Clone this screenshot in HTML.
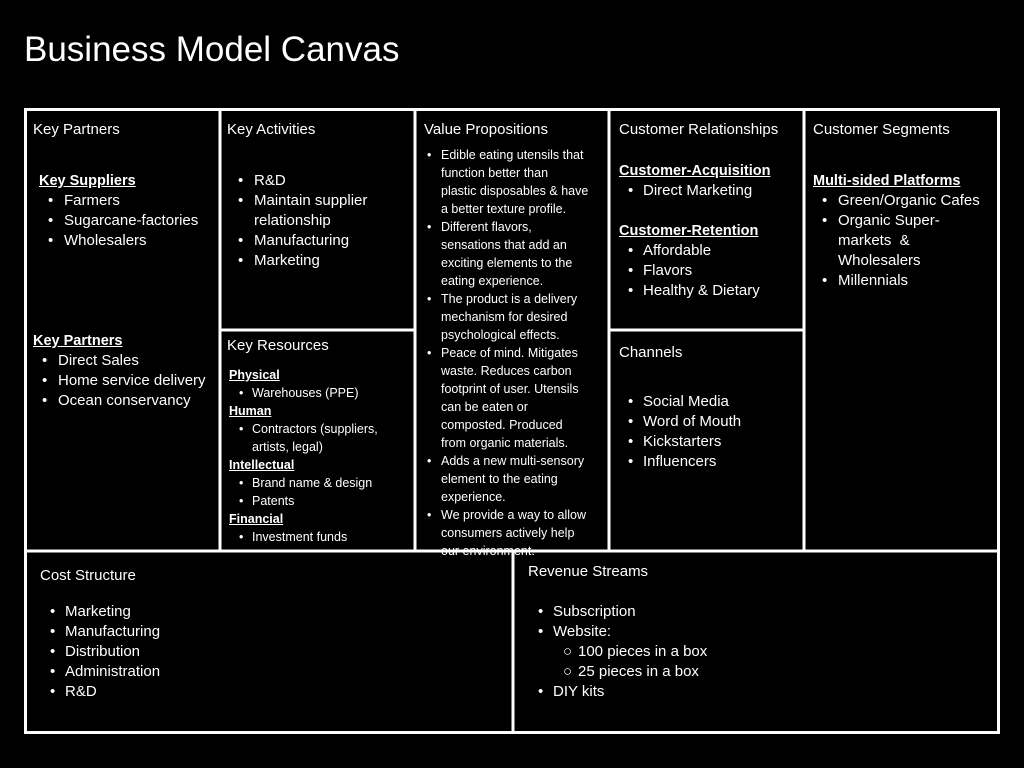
<!DOCTYPE html>
<html><head><meta charset="utf-8"><style>
body{margin:0;width:1024px;height:768px;background:#000;overflow:hidden;position:relative;font-family:"Liberation Sans",sans-serif;color:#fff}
.t{position:absolute;white-space:nowrap;font-size:15px;line-height:20px}
.s{position:absolute;white-space:nowrap;font-size:12.5px;line-height:18px}
.b{font-weight:bold;text-decoration:underline;font-size:14.5px}
.s.b{font-size:12.5px}
svg{position:absolute;left:0;top:0}
</style></head><body>
<svg width="1024" height="768"><g stroke="#fff" stroke-width="3" fill="none">
<rect x="25.5" y="109.5" width="973" height="623"/>
<line x1="220" y1="109" x2="220" y2="551"/>
<line x1="415" y1="109" x2="415" y2="551"/>
<line x1="609" y1="109" x2="609" y2="551"/>
<line x1="804" y1="109" x2="804" y2="551"/>
<line x1="220" y1="330" x2="415" y2="330"/>
<line x1="609" y1="330" x2="804" y2="330"/>
<line x1="25" y1="551" x2="999" y2="551"/>
<line x1="513" y1="551" x2="513" y2="733"/>
</g></svg>
<div style="position:absolute;left:24px;top:29px;font-size:35px;line-height:42px;white-space:nowrap">Business Model Canvas</div>
<div id="c"></div>
<script>
var h='';
function T(x,y,s,cls){h+='<div class="t '+(cls||'')+'" style="left:'+x+'px;top:'+(y-10)+'px">'+s+'</div>';}
function S(x,y,s,cls){h+='<div class="s '+(cls||'')+'" style="left:'+x+'px;top:'+(y-9)+'px">'+s+'</div>';}
function B(d,x,y,s){T(d,y,'•');T(x,y,s);}
function BS(d,x,y,s){if(s[0]!='~')S(d,y,'•');else s=s.slice(1);S(x,y,s);}
T(33,130,'Key Partners');T(227,130,'Key Activities');T(424,130,'Value Propositions');T(619,130,'Customer Relationships');T(813,130,'Customer Segments');
T(39,181,'Key Suppliers','b');B(48,64,201,'Farmers');B(48,64,221,'Sugarcane-factories');B(48,64,241,'Wholesalers');
T(33,341,'Key Partners','b');B(42,58,361,'Direct Sales');B(42,58,381,'Home service delivery');B(42,58,401,'Ocean conservancy');
B(238,254,181,'R&amp;D');B(238,254,201,'Maintain supplier');T(254,221,'relationship');B(238,254,241,'Manufacturing');B(238,254,261,'Marketing');
T(227,346,'Key Resources');
S(229,375,'Physical','b');BS(239,252,393,'Warehouses (PPE)');S(229,411,'Human','b');BS(239,252,429,'Contractors (suppliers,');BS(239,252,447,'~artists, legal)');
S(229,465,'Intellectual','b');BS(239,252,483,'Brand name &amp; design');BS(239,252,501,'Patents');S(229,519,'Financial','b');BS(239,252,537,'Investment funds');
var vp=[[155,'Edible eating utensils that'],[173,'~function better than'],[191,'~plastic disposables &amp; have'],[209,'~a better texture profile.'],
[227,'Different flavors,'],[245,'~sensations that add an'],[263,'~exciting elements to the'],[281,'~eating experience.'],
[299,'The product is a delivery'],[317,'~mechanism for desired'],[335,'~psychological effects.'],
[353,'Peace of mind. Mitigates'],[371,'~waste. Reduces carbon'],[389,'~footprint of user. Utensils'],[407,'~can be eaten or'],[425,'~composted. Produced'],[443,'~from organic materials.'],
[461,'Adds a new multi-sensory'],[479,'~element to the eating'],[497,'~experience.'],[515,'We provide a way to allow'],[533,'~consumers actively help'],[551,'~our environment.']];
vp.forEach(function(a){BS(427,441,a[0],a[1]);});
T(619,171,'Customer-Acquisition','b');B(628,643,191,'Direct Marketing');T(619,231,'Customer-Retention','b');B(628,643,251,'Affordable');B(628,643,271,'Flavors');B(628,643,291,'Healthy &amp; Dietary');
T(619,353,'Channels');B(628,643,402,'Social Media');B(628,643,422,'Word of Mouth');B(628,643,442,'Kickstarters');B(628,643,462,'Influencers');
T(813,181,'Multi-sided Platforms','b');B(822,838,201,'Green/Organic Cafes');B(822,838,221,'Organic Super-');T(838,241,'markets&nbsp; &amp;');T(838,261,'Wholesalers');B(822,838,281,'Millennials');
T(40,576,'Cost Structure');['Marketing','Manufacturing','Distribution','Administration','R&amp;D'].forEach(function(s,i){B(50,65,612+20*i,s);});
T(528,572,'Revenue Streams');B(538,553,612,'Subscription');B(538,553,632,'Website:');T(563,652,'○');T(578,652,'100 pieces in a box');T(563,672,'○');T(578,672,'25 pieces in a box');B(538,553,692,'DIY kits');
document.getElementById('c').innerHTML=h;
</script>
</body></html>
